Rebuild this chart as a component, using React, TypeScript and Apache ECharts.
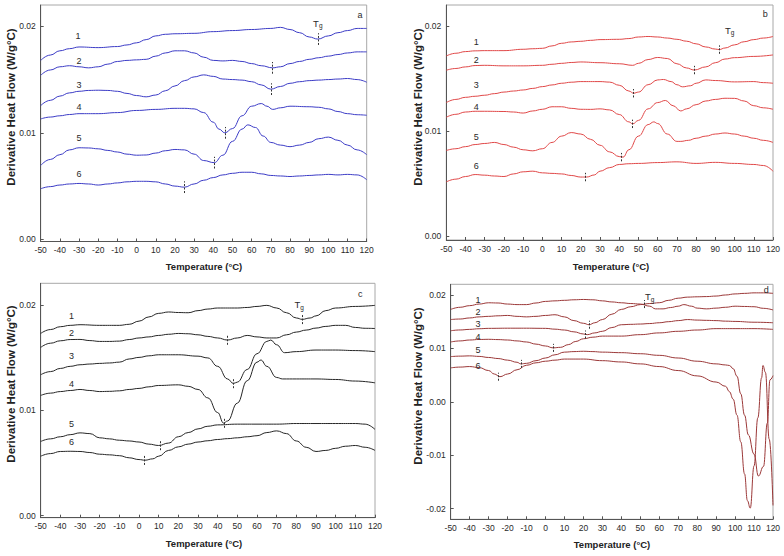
import React, { useEffect, useRef } from "react";
import * as echarts from "echarts";

type P = [number, number];

// ---------- Panel a (blue) ----------
const A1: P[] = [[-50,.0168],[-45,.0173],[-40,.0177],[-35,.0179],[-30,.01806],[-20,.0180],[-10,.0181],[-5,.01825],[0,.01845],[5,.01875],[10,.0191],[15,.01925],[20,.0193],[30,.01934],[40,.0195],[50,.0196],[60,.0197],[70,.0198],[75,.0199],[80,.0197],[85,.0194],[90,.0190],[94.5,.0188],[100,.0191],[105,.0194],[110,.0196],[115,.0198],[120,.0198]];
const A2: P[] = [[-50,.0154],[-45,.0159],[-40,.0162],[-35,.0163],[-30,.0162],[-25,.0161],[-20,.0162],[-15,.01645],[-10,.0167],[-5,.0168],[0,.01685],[5,.0169],[10,.0172],[15,.0175],[20,.0177],[25,.0177],[30,.0175],[35,.0171],[40,.0168],[45,.01675],[50,.0168],[55,.0167],[60,.0165],[65,.0163],[71,.0161],[75,.0162],[80,.0165],[85,.0167],[90,.0169],[95,.01705],[100,.0172],[105,.01735],[110,.0175],[115,.0176],[120,.0176]];
const A3: P[] = [[-50,.01256],[-45,.01305],[-40,.01345],[-35,.01375],[-30,.0139],[-25,.01398],[-20,.0140],[-15,.01398],[-10,.0139],[-5,.0137],[0,.0135],[5,.01338],[10,.01355],[15,.01395],[20,.0144],[25,.0149],[30,.01525],[35,.01544],[40,.0153],[45,.01505],[50,.0150],[55,.01495],[60,.0148],[65,.0145],[70,.0141],[75,.01435],[80,.01465],[85,.0148],[90,.0149],[95,.01495],[100,.0150],[105,.01505],[110,.0151],[115,.0150],[120,.01475]];
const A4: P[] = [[-50,.0113],[-45,.01148],[-40,.0116],[-35,.01172],[-30,.0118],[-20,.0118],[-10,.0119],[0,.0121],[10,.0122],[20,.0123],[25,.0123],[30,.01225],[35,.0119],[40,.0110],[43,.01035],[46,.0100],[50,.0104],[55,.0116],[60,.0125],[65,.01275],[68,.0125],[71,.0122],[75,.01235],[80,.0125],[90,.01245],[95,.0124],[100,.01225],[105,.0120],[110,.0118],[115,.0117],[120,.01165]];
const A5: P[] = [[-50,.00694],[-45,.0075],[-40,.00795],[-35,.0084],[-30,.0086],[-25,.00858],[-20,.0085],[-15,.00835],[-10,.0082],[-5,.0080],[0,.0079],[5,.00792],[10,.0081],[15,.00832],[20,.00844],[25,.0084],[30,.0080],[35,.0074],[40.5,.0072],[45,.0079],[50,.0092],[55,.01035],[58,.01075],[62,.0105],[66,.0097],[70,.0091],[75,.00885],[80,.0087],[85,.00885],[90,.0091],[95,.00945],[100,.0096],[105,.0093],[110,.00885],[115,.0084],[120,.00795]];
const A6: P[] = [[-50,.00475],[-45,.00495],[-40,.0051],[-35,.0052],[-30,.00525],[-25,.0052],[-20,.0051],[-15,.0052],[-10,.0053],[-5,.0054],[0,.00545],[5,.00545],[10,.0054],[15,.0052],[20,.0050],[25,.0049],[30,.0052],[35,.00555],[40,.0058],[45,.00605],[50,.0062],[55,.0063],[60,.0063],[65,.00615],[70,.0060],[75,.00595],[80,.0059],[85,.00595],[90,.0060],[95,.00605],[100,.0061],[105,.00605],[110,.0061],[115,.00605],[120,.0056]];
const TG_A: P[] = [[94.5,.0188],[71,.0161],[70,.0141],[46,.0100],[40.5,.0072],[25,.0049]];

// ---------- Panel b (red) ----------
const B1: P[] = [[-50,.01714],[-45,.0174],[-40,.01756],[-35,.01763],[-30,.01765],[-20,.01765],[-10,.01778],[-5,.01783],[0,.01787],[5,.0181],[10,.01835],[15,.01848],[20,.01854],[25,.01863],[30,.0187],[40,.01873],[45,.0188],[50,.01895],[55,.019],[60,.01895],[65,.01885],[70,.01873],[75,.01855],[80,.0183],[85,.018],[90,.0178],[92,.01775],[95,.0179],[100,.0182],[105,.0185],[110,.0187],[115,.01885],[120,.019]];
const B2: P[] = [[-50,.01578],[-45,.01595],[-40,.0161],[-35,.01623],[-30,.01625],[-20,.0162],[-10,.0162],[0,.01625],[5,.01635],[10,.01644],[15,.01652],[20,.01657],[30,.0165],[40,.0164],[47,.01625],[50,.01644],[55,.0168],[60,.0170],[65,.0169],[70,.0164],[75,.0160],[79,.0158],[85,.0161],[90,.0165],[95,.01685],[100,.01698],[110,.0171],[120,.01724]];
const B3: P[] = [[-50,.0127],[-45,.0130],[-40,.0132],[-35,.0133],[-30,.0134],[-25,.01355],[-20,.0137],[-15,.0138],[-10,.0139],[-5,.01405],[0,.01422],[5,.01438],[10,.01454],[15,.01464],[20,.0147],[30,.0147],[35,.01465],[40,.01435],[45,.0138],[47.5,.01359],[50,.0137],[55,.0144],[60,.01486],[63,.0149],[67,.0147],[70,.0144],[73,.0142],[77,.0143],[80,.01454],[85,.01486],[90,.0148],[100,.01467],[110,.0147],[115,.0146],[120,.01454]];
const B4: P[] = [[-50,.0113],[-45,.01158],[-40,.0118],[-35,.01187],[-30,.01187],[-20,.01185],[-15,.0118],[-10,.0117],[-5,.0119],[0,.01206],[5,.0123],[10,.0123],[15,.01215],[20,.01206],[25,.01205],[30,.0121],[35,.0120],[40,.01156],[45,.01086],[47,.01067],[50,.0110],[55,.0121],[60,.0127],[64,.0129],[68,.0124],[72,.0119],[75,.0121],[80,.0125],[85,.01285],[90,.0130],[95,.01311],[100,.0131],[105,.01285],[110,.0124],[115,.0122],[120,.01206]];
const B5: P[] = [[-50,.00813],[-45,.0083],[-40,.0085],[-35,.0087],[-30,.0088],[-25,.0089],[-20,.0087],[-15,.00845],[-10,.0082],[-5,.0081],[0,.0083],[5,.0089],[10,.0095],[15,.00984],[20,.0097],[25,.0092],[30,.00863],[35,.0080],[40,.00755],[42,.0075],[45,.0082],[50,.0095],[55,.0106],[58,.01086],[60,.0107],[65,.0097],[70,.0090],[72,.0090],[76,.0091],[80,.0093],[85,.0095],[90,.0097],[95,.0098],[100,.0097],[105,.0095],[110,.0093],[115,.0091],[120,.0089]];
const B6: P[] = [[-50,.00514],[-45,.0054],[-40,.00565],[-35,.00584],[-30,.00578],[-25,.0057],[-20,.00565],[-15,.0059],[-10,.0061],[-5,.00616],[0,.0060],[5,.00595],[10,.0059],[15,.00575],[20,.0056],[23,.0056],[27,.0058],[30,.00616],[35,.0065],[40,.0068],[45,.00687],[50,.0069],[60,.00698],[70,.00705],[80,.0069],[90,.0070],[100,.0069],[110,.0068],[115,.0067],[120,.00616]];
const TG_B: P[] = [[92,.01775],[79,.0158],[47.5,.01359],[47,.01067],[41,.0075],[22.5,.0056]];

// ---------- Panel c (black) ----------
const C1: P[] = [[-50,.01733],[-45,.0177],[-40,.01797],[-35,.0181],[-30,.01816],[-20,.0181],[-10,.0181],[-5,.0182],[0,.0185],[5,.0189],[10,.01924],[15,.01937],[20,.01932],[25,.0193],[30,.0195],[35,.01965],[40,.01975],[50,.01975],[55,.0198],[60,.0199],[65,.0200],[70,.01975],[75,.0193],[80,.0188],[83,.01867],[87,.0188],[90,.0190],[95,.0195],[100,.01975],[110,.0199],[120,.0200]];
const C2: P[] = [[-50,.0160],[-45,.0164],[-40,.01663],[-35,.01675],[-30,.01676],[-25,.01665],[-20,.01657],[-15,.01657],[-10,.0166],[-5,.01675],[0,.0169],[5,.017],[10,.01714],[15,.01725],[20,.01733],[25,.0173],[30,.0172],[35,.01705],[40,.0169],[45,.0167],[50,.0169],[55,.01714],[60,.0170],[65,.0169],[70,.0169],[75,.0172],[80,.01746],[85,.01765],[90,.01784],[95,.018],[100,.0181],[105,.0181],[110,.0179],[115,.01782],[120,.0178]];
const C3: P[] = [[-50,.0134],[-45,.0137],[-40,.0140],[-35,.0142],[-30,.01435],[-25,.01442],[-20,.01448],[-15,.01452],[-10,.0146],[-5,.0149],[0,.01505],[5,.0152],[10,.0153],[20,.0153],[30,.01517],[35,.0150],[40,.0142],[45,.0130],[48,.01257],[50,.0127],[55,.0139],[60,.0154],[65,.01657],[67,.0167],[70,.01625],[74,.0155],[80,.0156],[90,.01575],[100,.01575],[110,.0157],[120,.0156]];
const C4: P[] = [[-50,.01143],[-45,.01165],[-40,.0118],[-35,.0119],[-30,.0120],[-25,.0119],[-20,.0118],[-15,.01182],[-10,.01187],[-5,.012],[0,.0121],[5,.01225],[10,.01238],[20,.01244],[25,.0123],[30,.0120],[35,.0112],[40,.0098],[43,.0088],[45,.0090],[50,.0107],[55,.01283],[60,.0146],[62,.0148],[65,.0142],[70,.01314],[73,.0130],[80,.0130],[90,.0130],[100,.01295],[110,.0128],[120,.01263]];
const C5: P[] = [[-50,.00705],[-45,.0073],[-40,.0075],[-35,.0077],[-30,.00787],[-25,.0078],[-20,.0074],[-15,.0073],[-10,.00717],[-5,.0071],[0,.0070],[5,.0068],[10,.00667],[15,.0069],[20,.0075],[25,.0079],[30,.00825],[35,.0085],[40,.00863],[50,.0087],[60,.0087],[70,.0087],[80,.00876],[90,.00876],[100,.00876],[110,.00876],[115,.0087],[120,.0082]];
const C6: P[] = [[-50,.00565],[-45,.0059],[-40,.0061],[-35,.00612],[-30,.0061],[-25,.0060],[-20,.00584],[-15,.00578],[-10,.0057],[-5,.0055],[0,.00533],[3,.00527],[7,.0054],[10,.00565],[15,.0062],[20,.00654],[25,.0068],[30,.0070],[35,.00712],[40,.00724],[45,.00732],[50,.0074],[55,.0075],[60,.0076],[65,.0079],[70,.00806],[75,.0078],[80,.0071],[85,.0065],[90,.0061],[95,.0062],[100,.0064],[105,.0066],[110,.00667],[115,.0065],[120,.0062]];
const TG_C: P[] = [[83,.01867],[45,.0167],[48,.01257],[43.5,.0088],[11,.00667],[2.5,.00527]];

// ---------- Panel d (dark red) ----------
const D1: P[] = [[-50,.0173],[-45,.0177],[-40,.0180],[-35,.0183],[-30,.01854],[-25,.0185],[-20,.0183],[-15,.0182],[-10,.0182],[-5,.0185],[0,.0188],[5,.0189],[10,.0190],[15,.0191],[20,.01916],[25,.0191],[30,.0189],[35,.0187],[40,.01854],[45,.0184],[50,.0183],[55,.0179],[58,.0174],[62,.0174],[66,.01765],[70,.0179],[73,.0182],[77,.0179],[80,.01754],[85,.0174],[90,.01754],[95,.0177],[100,.0179],[105,.01785],[110,.0178],[115,.0175],[120,.0172]];
const D2: P[] = [[-50,.0154],[-45,.0155],[-40,.0157],[-35,.0159],[-30,.0160],[-25,.0161],[-20,.01617],[-15,.0160],[-10,.0159],[-5,.016],[0,.01617],[5,.0163],[10,.0159],[15,.0152],[20,.0147],[23,.01443],[26,.0148],[30,.0154],[35,.0164],[40,.0173],[45,.0178],[50,.0182],[55,.0184],[60,.01855],[65,.019],[70,.0194],[75,.0196],[80,.01966],[85,.0197],[90,.0198],[95,.0200],[100,.0202],[105,.0203],[110,.0204],[115,.0204],[120,.0203]];
const D3: P[] = [[-50,.0133],[-45,.01345],[-40,.01356],[-35,.01368],[-30,.01375],[-20,.01378],[-10,.01378],[0,.01375],[5,.0136],[10,.01344],[15,.0131],[20,.0127],[22,.01257],[26,.0129],[30,.0132],[35,.0139],[40,.01443],[45,.0145],[50,.01456],[55,.01465],[60,.0148],[65,.015],[70,.0152],[75,.0154],[80,.0153],[85,.01525],[90,.0152],[95,.0151],[100,.01505],[110,.0149],[120,.0148]];
const D4: P[] = [[-50,.0112],[-45,.0114],[-40,.01157],[-35,.01167],[-30,.0117],[-25,.01165],[-20,.01157],[-15,.0114],[-10,.0112],[-5,.0108],[0,.01045],[4,.0101],[8,.0102],[12,.0107],[16,.0113],[20,.0118],[25,.0121],[30,.0123],[40,.0123],[50,.01257],[60,.0129],[70,.0132],[80,.01344],[90,.0137],[100,.0137],[110,.0137],[120,.01356]];
const D5: P[] = [[-50,.00846],[-45,.00855],[-40,.0086],[-35,.0085],[-30,.0083],[-25,.0081],[-20,.0078],[-15,.0074],[-13,.0071],[-10,.0072],[-5,.0077],[0,.0082],[5,.0088],[10,.0093],[15,.0094],[20,.00946],[25,.0094],[30,.0093],[40,.0092],[50,.0090],[60,.0087],[70,.0082],[80,.0076],[90,.0071],[95,.0069],[97,.0068],[99,.0062],[101,.0048],[103,.0015],[105,-.0025],[107,-.0062],[110,-.0098],[112.3,-.0139],[115,-.0121],[117,-.004],[118.4,.0041],[120,.0049]];
const D6: P[] = [[-50,.00635],[-45,.0065],[-40,.0066],[-35,.0064],[-30,.00585],[-27,.0052],[-24,.0047],[-20,.0052],[-15,.006],[-10,.00684],[-5,.0073],[0,.0076],[5,.0078],[10,.0080],[20,.0080],[30,.0077],[40,.00746],[50,.0071],[60,.0066],[70,.00585],[80,.00485],[90,.0037],[95,.0029],[97,.0019],[99,.0005],[101,-.0025],[103,-.0075],[105,-.0135],[106.5,-.0185],[108,-.0199],[110,-.012],[112,-.003],[114,.0045],[114.7,.0068],[116,.0055],[118,-.007],[120,-.0194]];
const TG_D: P[] = [[52,.0183],[23,.01443],[21,.0126],[4,.0101],[-13,.0071],[-25,.0047]];

const CURVE_NAMES = ["1", "2", "3", "4", "5", "6"];
const X_MIN = -50;
const X_MAX = 120;

// label anchor positions (data coordinates)
const NAME_POS_A: P[] = [[-30.5,.0191],[-30,.0167],[-30,.0145],[-30,.0124],[-30,.0095],[-30,.0061]];
const NAME_POS_B: P[] = [[-34.4,.01844],[-34.4,.01673],[-34.4,.0144],[-34.4,.01225],[-34.4,.00946],[-34.4,.0067]];
const NAME_POS_C: P[] = [[-34.4,.0190],[-34.4,.01733],[-34.4,.0152],[-34.4,.01254],[-34.4,.00876],[-34.4,.0070]];
const NAME_POS_D: P[] = [[-35.6,.0190],[-35.6,.01686],[-35.6,.01462],[-35.6,.0121],[-35.6,.0097],[-35.6,.0067]];

interface Panel {
  curves: P[][];
  tg: P[];
  names: P[];
  tgText: P;
  letter: string;
  letterPos: P;
  color: string;
  yMin: number;
  yMax: number;
  yTicks: number[];
  grid: { left: number; top: number; width: number; height: number };
  half: number;
  yTitle: [number, number];
  xTitle: [number, number];
}

const PANELS: Panel[] = [
  {
    curves: [A1, A2, A3, A4, A5, A6], tg: TG_A, names: NAME_POS_A,
    tgText: [94.5, .0203], letter: "a", letterPos: [116.5, .0211],
    color: "#3c3cc6", yMin: -0.0002, yMax: 0.022, yTicks: [0, 0.01, 0.02],
    grid: { left: 40.7, top: 5, width: 326, height: 236.5 }, half: 0.00055,
    yTitle: [11, 107], xTitle: [204, 266],
  },
  {
    curves: [B1, B2, B3, B4, B5, B6], tg: TG_B, names: NAME_POS_B,
    tgText: [97.5, .0196], letter: "b", letterPos: [116, .0211],
    color: "#e04848", yMin: -0.0004, yMax: 0.022, yTicks: [0, 0.01, 0.02],
    grid: { left: 446.3, top: 5, width: 326.7, height: 235 }, half: 0.0004,
    yTitle: [418, 107], xTitle: [611, 266],
  },
  {
    curves: [C1, C2, C3, C4, C5, C6], tg: TG_C, names: NAME_POS_C,
    tgText: [81.5, .02006], letter: "c", letterPos: [112.5, .0211],
    color: "#262626", yMin: -0.0002, yMax: 0.0221, yTicks: [0, 0.01, 0.02],
    grid: { left: 40.7, top: 283.3, width: 334.3, height: 234.4 }, half: 0.00045,
    yTitle: [11, 384], xTitle: [204, 543],
  },
  {
    curves: [D1, D2, D3, D4, D5, D6], tg: TG_D, names: NAME_POS_D,
    tgText: [55, .0197], letter: "d", letterPos: [116.5, .0209],
    color: "#9b3838", yMin: -0.022, yMax: 0.022, yTicks: [-0.02, -0.01, 0, 0.01, 0.02],
    grid: { left: 450.7, top: 284.3, width: 322.3, height: 235 }, half: 0.00075,
    yTitle: [418, 386], xTitle: [612, 544],
  },
];

const FONT = "'Liberation Sans', Arial, sans-serif";
const TEXT = "#2a2a2a";

function buildOption() {
  const grid: any[] = [];
  const xAxis: any[] = [];
  const yAxis: any[] = [];
  const series: any[] = [];
  const graphic: any[] = [];

  PANELS.forEach((p, i) => {
    grid.push({ ...p.grid, show: true, borderColor: "#a8a8a8", borderWidth: 1, backgroundColor: "transparent" });
    xAxis.push({
      type: "value", gridIndex: i, min: X_MIN, max: X_MAX, interval: 10,
      axisLine: { show: true, onZero: false, lineStyle: { color: "#555", width: 1 } },
      axisTick: { show: true, inside: true, length: 3, lineStyle: { color: "#555" } },
      axisLabel: { fontSize: 8.5, color: TEXT, fontFamily: FONT, margin: 4 },
      splitLine: { show: false },
    });
    yAxis.push({
      type: "value", gridIndex: i, min: p.yMin, max: p.yMax,
      axisLine: { show: true, onZero: false, lineStyle: { color: "#555", width: 1 } },
      axisTick: { show: true, inside: true, length: 3, customValues: p.yTicks, lineStyle: { color: "#555" } },
      axisLabel: {
        fontSize: 8.5, color: TEXT, fontFamily: FONT, margin: 5, customValues: p.yTicks,
        formatter: (v: number) => (Math.abs(v) < 1e-9 ? "0.00" : v.toFixed(2)),
      },
      splitLine: { show: false },
    });

    p.curves.forEach((c, k) => {
      const tg = p.tg[k];
      series.push({
        type: "line", xAxisIndex: i, yAxisIndex: i, data: c,
        showSymbol: false, symbol: "none", smooth: 0.45, smoothMonotone: "x",
        lineStyle: { color: p.color, width: 1 }, silent: true, z: 2,
        markLine: {
          silent: true, symbol: "none", label: { show: false },
          lineStyle: { color: "#333", width: 1, type: [2, 1.5] },
          data: [[{ coord: [tg[0], tg[1] - p.half] }, { coord: [tg[0], tg[1] + p.half] }]],
        },
      });
    });

    // text annotations (curve numbers, panel letter, Tg) via custom series
    const texts: string[] = [...CURVE_NAMES, p.letter, "{t|T}{g|g}"];
    const pts: P[] = [...p.names, p.letterPos, p.tgText];
    series.push({
      type: "custom", xAxisIndex: i, yAxisIndex: i, silent: true, z: 6, clip: false,
      data: pts,
      renderItem: (params: any, api: any) => {
        const c = api.coord([api.value(0), api.value(1)]);
        const txt = texts[params.dataIndex];
        const isTg = txt.startsWith("{");
        return {
          type: "text", x: c[0], y: c[1],
          style: {
            text: txt, fill: TEXT, fontFamily: FONT, fontSize: 9,
            align: "center", verticalAlign: "middle",
            rich: isTg
              ? {
                  t: { fontSize: 9.5, fill: TEXT, fontFamily: FONT },
                  g: { fontSize: 6.5, fill: TEXT, fontFamily: FONT, padding: [5, 0, 0, 0] },
                }
              : undefined,
          },
        };
      },
    });

    graphic.push({
      type: "text", x: p.yTitle[0], y: p.yTitle[1], rotation: Math.PI / 2,
      style: { text: "Derivative Heat Flow (W/g°C)", fontSize: 11.5, fontWeight: "bold", fontFamily: FONT, fill: "#222", align: "center", verticalAlign: "middle" },
    });
    graphic.push({
      type: "text", x: p.xTitle[0], y: p.xTitle[1],
      style: { text: "Temperature (°C)", fontSize: 9.5, fontWeight: "bold", fontFamily: FONT, fill: "#222", align: "center", verticalAlign: "middle" },
    });
  });

  return { animation: false, backgroundColor: "#fff", grid, xAxis, yAxis, series, graphic };
}

export default function App() {
  const ref = useRef<HTMLDivElement>(null);
  useEffect(() => {
    if (!ref.current) return;
    const chart = echarts.init(ref.current, undefined, { renderer: "svg" });
    chart.setOption(buildOption() as any);
    return () => chart.dispose();
  }, []);
  return (
    <div
      ref={ref}
      style={{ position: "fixed", left: 0, top: 0, width: 784, height: 556, background: "#fff" }}
    />
  );
}
